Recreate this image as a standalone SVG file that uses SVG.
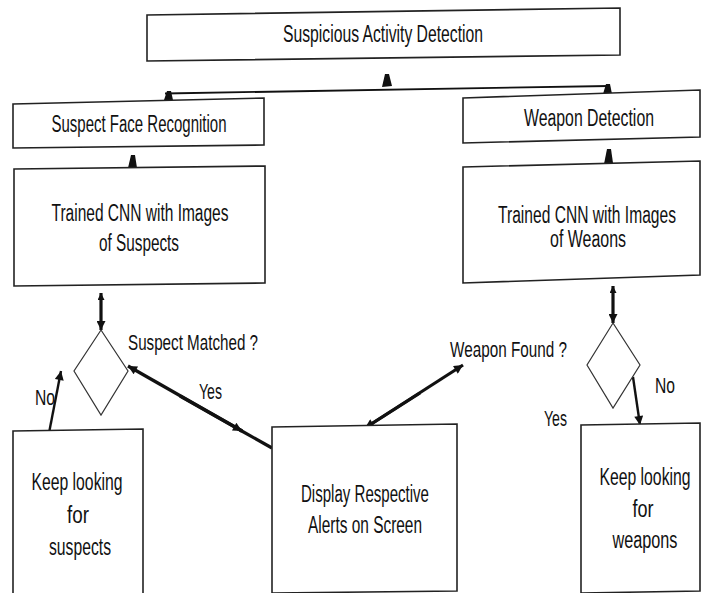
<svg xmlns="http://www.w3.org/2000/svg" width="702" height="593" viewBox="0 0 702 593">
<style>
.box{fill:#fff;stroke:#222;stroke-width:1.6}
.dia{fill:#fff;stroke:#333;stroke-width:1.2}
.t{font-family:"Liberation Sans",Arial,sans-serif;font-size:23px;fill:#111;text-anchor:middle}
.l{font-family:"Liberation Sans",Arial,sans-serif;font-size:22px;fill:#111}
.c{fill:none;stroke:#111;stroke-width:3.2}
.c2{fill:none;stroke:#111;stroke-width:2.4}
.tri{fill:#111}
</style>
<defs>
<marker id="ah" viewBox="0 0 10 10" refX="10" refY="5" markerWidth="13" markerHeight="9" markerUnits="userSpaceOnUse" orient="auto">
<path d="M0,0 L10,5 L0,10 z" fill="#111"/>
</marker>
<marker id="ahs" viewBox="0 0 10 10" refX="10" refY="5" markerWidth="9" markerHeight="7" markerUnits="userSpaceOnUse" orient="auto">
<path d="M0,0 L10,5 L0,10 z" fill="#111"/>
</marker>
</defs>
<rect width="702" height="593" fill="#fff"/>

<g id="connectors">
<polyline class="c2" points="165,93.5 609,86" style="stroke-width:1.8"/>
<polygon class="tri" points="382,87 385,74 389,74 392,86"/>
<polygon class="tri" points="164,100 167,91 171,91 173,100"/>
<polygon class="tri" points="603,94 606,84 610,84 612,94"/>
<polygon class="tri" points="128,168 131,155 135,155 137,168"/>
<polygon class="tri" points="604,164 607,149 611,149 613,163"/>
<path class="c" d="M101,306 L101,330" marker-end="url(#ah)"/>
<path class="c" d="M101,306 L101,293" marker-end="url(#ahs)"/>
<path class="c" d="M613,300 L613,323" marker-end="url(#ah)"/>
<path class="c" d="M613,300 L613,286" marker-end="url(#ahs)"/>
<path class="c2" d="M49,433 L61,371" marker-end="url(#ah)"/>
<path class="c2" d="M633,377 L640,425" marker-end="url(#ah)"/>
<path class="c" d="M242,431 L128,366" marker-end="url(#ah)"/>
<path class="c" d="M180,396 L242,431" marker-end="url(#ah)"/>
<path class="c" d="M240,430 L272,448"/>
<path class="c" d="M365,428 L463,365" marker-end="url(#ah)"/>
<path class="c" d="M420,393 L365,428" marker-end="url(#ah)"/>
<path class="c" d="M367,427 L333,448"/>
</g>

<g id="n-top"><polygon class="box" points="147,15 620,8 620,55 147,61"/><text class="t" x="383" y="42" textLength="200" lengthAdjust="spacingAndGlyphs">Suspicious Activity Detection</text></g>
<g id="n-face"><polygon class="box" points="13,104 264,98 264,145 13,148"/><text class="t" x="139" y="132" textLength="175" lengthAdjust="spacingAndGlyphs">Suspect Face Recognition</text></g>
<g id="n-weapon"><polygon class="box" points="463,98 700,90 700,137 463,143"/><text class="t" x="589" y="126" textLength="130" lengthAdjust="spacingAndGlyphs">Weapon Detection</text></g>
<g id="n-cnn-s"><polygon class="box" points="14,169 265,166 265,283 14,286"/><text class="t" x="140" y="221" textLength="177" lengthAdjust="spacingAndGlyphs">Trained CNN with Images</text><text class="t" x="139" y="251" textLength="80" lengthAdjust="spacingAndGlyphs">of Suspects</text></g>
<g id="n-cnn-w"><polygon class="box" points="463,167 700,161 700,275 463,283"/><text class="t" x="587" y="223" textLength="178" lengthAdjust="spacingAndGlyphs">Trained CNN with Images</text><text class="t" x="588" y="247" textLength="76" lengthAdjust="spacingAndGlyphs">of Weaons</text></g>
<g id="n-dia-s"><polygon class="dia" points="101,330 128,371 101,415 74,371"/></g>
<g id="n-dia-w"><polygon class="dia" points="613,323 640,365 613,408 587,365"/></g>
<g id="n-keep-s"><polygon class="box" points="13,431 143,429 143,600 13,600"/><text class="t" x="77" y="490" textLength="91" lengthAdjust="spacingAndGlyphs">Keep looking</text><text class="t" x="78" y="523" textLength="22" lengthAdjust="spacingAndGlyphs">for</text><text class="t" x="80" y="555" textLength="62" lengthAdjust="spacingAndGlyphs">suspects</text></g>
<g id="n-display"><polygon class="box" points="272,427 457,424 457,591 272,593"/><text class="t" x="365" y="502" textLength="128" lengthAdjust="spacingAndGlyphs">Display Respective</text><text class="t" x="365" y="533" textLength="114" lengthAdjust="spacingAndGlyphs">Alerts on Screen</text></g>
<g id="n-keep-w"><polygon class="box" points="581,425 700,423 700,591 581,593"/><text class="t" x="645" y="485" textLength="91" lengthAdjust="spacingAndGlyphs">Keep looking</text><text class="t" x="643" y="517" textLength="21" lengthAdjust="spacingAndGlyphs">for</text><text class="t" x="645" y="548" textLength="65" lengthAdjust="spacingAndGlyphs">weapons</text></g>

<g id="labels">
<text class="l" x="128" y="350" textLength="130" lengthAdjust="spacingAndGlyphs">Suspect Matched ?</text>
<text class="l" x="199" y="399" textLength="23" lengthAdjust="spacingAndGlyphs">Yes</text>
<text class="l" x="35" y="405" textLength="20" lengthAdjust="spacingAndGlyphs">No</text>
<text class="l" x="450" y="357" textLength="117" lengthAdjust="spacingAndGlyphs">Weapon Found ?</text>
<text class="l" x="655" y="393" textLength="20" lengthAdjust="spacingAndGlyphs">No</text>
<text class="l" x="544" y="426" textLength="23" lengthAdjust="spacingAndGlyphs">Yes</text>
</g>
</svg>
